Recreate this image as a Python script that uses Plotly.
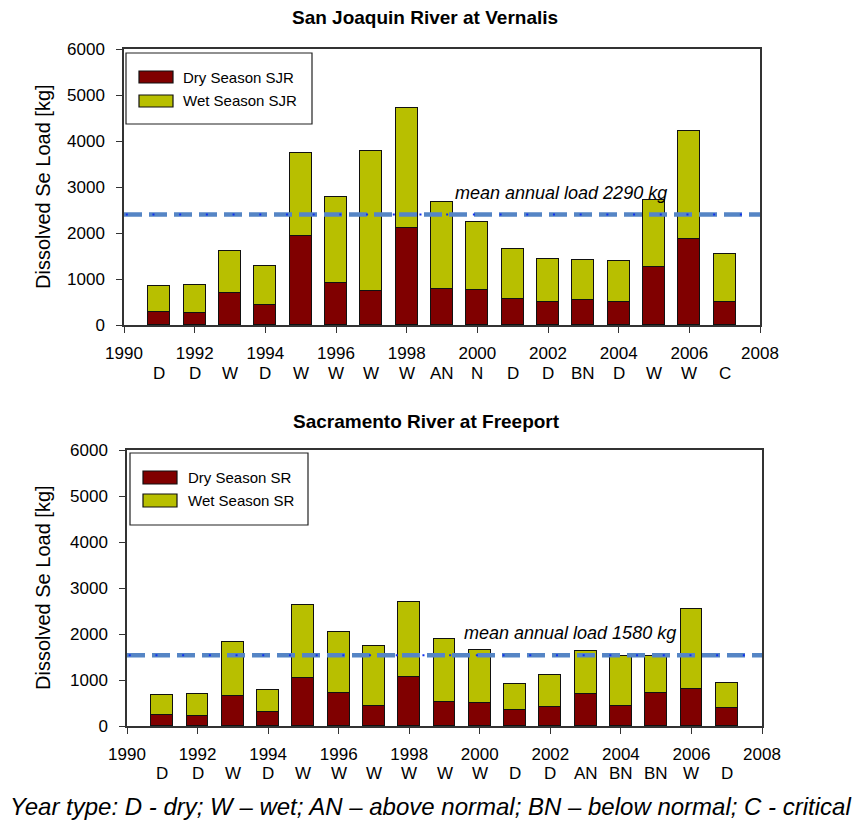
import plotly.graph_objects as go

W, H = 855, 821

years = list(range(1991, 2008))

# San Joaquin River at Vernalis (kg)
sjr_dry = [282, 260, 702, 427, 1925, 912, 731, 2098, 789, 767, 572, 507, 550, 492, 1252, 1867, 507]
sjr_total = [839, 861, 1599, 1288, 3748, 2793, 3777, 4711, 2670, 2236, 1650, 1425, 1404, 1397, 2728, 4219, 1548]
sjr_wet = [t - d for t, d in zip(sjr_total, sjr_dry)]
sjr_types = ["D", "D", "W", "D", "W", "W", "W", "W", "AN", "N", "D", "D", "BN", "D", "W", "W", "C"]
sjr_mean_line = 2400

# Sacramento River at Freeport (kg)
sr_dry = [247, 218, 646, 305, 1038, 718, 443, 1074, 515, 501, 341, 421, 697, 443, 726, 805, 399]
sr_total = [668, 697, 1821, 776, 2620, 2046, 1749, 2692, 1887, 1647, 907, 1118, 1633, 1525, 1524, 2547, 936]
sr_wet = [t - d for t, d in zip(sr_total, sr_dry)]
sr_types = ["D", "D", "W", "D", "W", "W", "W", "W", "W", "W", "D", "D", "AN", "BN", "BN", "W", "D"]
sr_mean_line = 1540

x_ticks = list(range(1990, 2009, 2))
y_ticks = list(range(0, 6001, 1000))

DRY = "#800000"
WET = "#B8BF00"
BLUE = "#5585C5"
FONT = "Arial, Liberation Sans, sans-serif"


def px(x):
    return x / W


def py(y):
    return 1 - y / H


fig = go.Figure()

BAR_W = 0.62
for xa, ya, dry, wet, nm in [("x", "y", sjr_dry, sjr_wet, "SJR"), ("x2", "y2", sr_dry, sr_wet, "SR")]:
    fig.add_trace(go.Bar(x=years, y=dry, width=BAR_W, marker=dict(color=DRY, line=dict(color="#111", width=1.2)),
                         name="Dry Season " + nm, xaxis=xa, yaxis=ya, showlegend=False))
    fig.add_trace(go.Bar(x=years, y=wet, width=BAR_W, marker=dict(color=WET, line=dict(color="#111", width=1.2)),
                         name="Wet Season " + nm, xaxis=xa, yaxis=ya, showlegend=False))

axis_common = dict(showline=True, mirror=True, linecolor="#333", linewidth=1.5, ticks="outside",
                   ticklen=6, tickcolor="#333", showgrid=False, zeroline=False, automargin=False,
                   tickfont=dict(family=FONT, size=17, color="#000"))

fig.update_layout(
    template="none",
    width=W, height=H, margin=dict(l=0, r=0, t=0, b=0, pad=0), autosize=False,
    paper_bgcolor="white", plot_bgcolor="white", barmode="stack", bargap=0,
    font=dict(family=FONT, color="#000"),
    xaxis=dict(domain=[px(124), px(760)], range=[1990, 2008], tickvals=x_ticks, anchor="y",
               ticklabelstandoff=6, **axis_common),
    yaxis=dict(domain=[py(325), py(49)], range=[0, 6000], tickvals=y_ticks, anchor="x",
               ticklabelstandoff=8, **axis_common),
    xaxis2=dict(domain=[px(127), px(762)], range=[1990, 2008], tickvals=x_ticks, anchor="y2",
                ticklabelstandoff=6, **axis_common),
    yaxis2=dict(domain=[py(726), py(450)], range=[0, 6000], tickvals=y_ticks, anchor="x2",
                ticklabelstandoff=8, **axis_common),
)

shapes = []
annotations = []

# mean lines
for xr, yr, val in [("x", "y", sjr_mean_line), ("x2", "y2", sr_mean_line)]:
    shapes.append(dict(type="line", xref=xr, yref=yr, x0=1990, x1=2008, y0=val, y1=val,
                       line=dict(color=BLUE, width=4.5, dash="18px,7px")))
    shapes.append(dict(type="line", xref=xr, yref=yr, x0=1990.05, x1=2008, y0=val, y1=val,
                       line=dict(color="#1030F0", width=2, dash="2px,24.7px")))

annotations.append(dict(xref="x", yref="y", x=1999.3, y=2870, xanchor="left", yanchor="middle",
                        text="<i>mean annual load 2290 kg</i>", showarrow=False,
                        font=dict(family=FONT, size=18, color="#000")))
annotations.append(dict(xref="x2", yref="y2", x=1999.5, y=2020, xanchor="left", yanchor="middle",
                        text="<i>mean annual load 1580 kg</i>", showarrow=False,
                        font=dict(family=FONT, size=18, color="#000")))

# titles
annotations.append(dict(xref="paper", yref="paper", x=px(425), y=py(18), xanchor="center", yanchor="middle",
                        text="<b>San Joaquin River at Vernalis</b>", showarrow=False,
                        font=dict(family=FONT, size=19, color="#000")))
annotations.append(dict(xref="paper", yref="paper", x=px(426), y=py(421), xanchor="center", yanchor="middle",
                        text="<b>Sacramento River at Freeport</b>", showarrow=False,
                        font=dict(family=FONT, size=19, color="#000")))

# y-axis titles
for ycen in [187, 588]:
    annotations.append(dict(xref="paper", yref="paper", x=px(43), y=py(ycen), xanchor="center", yanchor="middle",
                            text="Dissolved Se Load [kg]", textangle=-90, showarrow=False,
                            font=dict(family=FONT, size=20, color="#000")))

# year types
for xr, types, ypix in [("x", sjr_types, 373), ("x2", sr_types, 773)]:
    for yr, t in zip(years, types):
        annotations.append(dict(xref=xr, yref="paper", x=yr, y=py(ypix), xanchor="center", yanchor="middle",
                                text=t, showarrow=False, font=dict(family=FONT, size=17, color="#000")))

# caption
annotations.append(dict(xref="paper", yref="paper", x=px(430), y=py(806), xanchor="center", yanchor="middle",
                        text="<i>Year type: D - dry; W \u2013 wet; AN \u2013 above normal; BN \u2013 below normal; C - critical</i>",
                        showarrow=False, font=dict(family=FONT, size=24, color="#000")))

# custom legends
legends = [
    (126, 312, 53, 124, 139, 173, [(71, 83), (95, 107)], 181, ["Dry Season SJR", "Wet Season SJR"]),
    (130, 308, 453, 525, 143, 177, [(471, 484), (494, 507)], 186, ["Dry Season SR", "Wet Season SR"]),
]
for bx0, bx1, by0, by1, sx0, sx1, rows, tx, labels in legends:
    shapes.append(dict(type="rect", xref="paper", yref="paper", x0=px(bx0), x1=px(bx1), y0=py(by1), y1=py(by0),
                       line=dict(color="#222", width=1.2), fillcolor="white"))
    for (ry0, ry1), lab, col in zip(rows, labels, [DRY, WET]):
        shapes.append(dict(type="rect", xref="paper", yref="paper", x0=px(sx0), x1=px(sx1), y0=py(ry1), y1=py(ry0),
                           line=dict(color="#111", width=1.2), fillcolor=col))
        annotations.append(dict(xref="paper", yref="paper", x=px(tx), y=py((ry0 + ry1) / 2), xanchor="left",
                                yanchor="middle", text=lab, showarrow=False,
                                font=dict(family=FONT, size=15, color="#000")))

fig.update_layout(shapes=shapes, annotations=annotations)
fig.write_html("out.html", config={"displayModeBar": False},
               post_script="document.body.style.margin='0';document.body.style.overflow='hidden';")
